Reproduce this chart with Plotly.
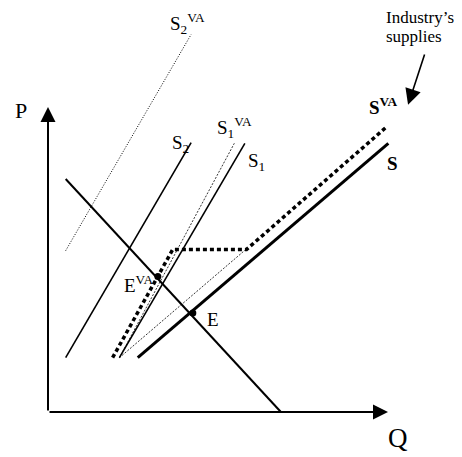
import plotly.graph_objects as go

# ---- data (Q, P) in chart units ----
demand_q = [0.52, 6.85]
demand_p = [7.64, 0.0]

s2_q = [0.52, 4.21]
s2_p = [1.78, 8.83]

s2va_q = [0.52, 4.21]
s2va_p = [5.29, 12.38]

s1_q = [2.10, 5.79]
s1_p = [1.78, 8.81]

s1va_q = [2.10, 5.48]
s1va_p = [1.78, 8.81]

kink_guide_q = [2.10, 5.84]
kink_guide_p = [1.78, 5.35]

s_q = [2.64, 10.01]
s_p = [1.78, 8.81]

sva_q = [1.90, 3.67, 5.84, 9.96]
sva_p = [1.78, 5.33, 5.33, 9.35]

eq_names = ["EVA", "E"]
eq_q = [3.23, 4.26]
eq_p = [4.44, 3.25]

axis_max_q = 10.0
axis_max_p = 10.0

fig = go.Figure()

def line(q, p, width, dash="solid"):
    fig.add_trace(go.Scatter(x=q, y=p, mode="lines",
                             line=dict(color="black", width=width, dash=dash),
                             hoverinfo="skip", showlegend=False))

line(s2va_q, s2va_p, 1, "1px,1.6px")
line(kink_guide_q, kink_guide_p, 0.8, "2px,1.5px")
line(s1va_q, s1va_p, 0.8, "2px,1.5px")
line(demand_q, demand_p, 2)
line(s2_q, s2_p, 1.6)
line(s1_q, s1_p, 1.6)
line(s_q, s_p, 3)
line(sva_q, sva_p, 3.5, "4px,3px")

fig.add_trace(go.Scatter(x=eq_q, y=eq_p, mode="markers",
                         marker=dict(color="black", size=7),
                         hoverinfo="skip", showlegend=False))

# axes with arrowheads
fig.add_annotation(x=0, y=axis_max_p, ax=0, ay=0, xref="x", yref="y",
                   axref="x", ayref="y", showarrow=True, arrowhead=2,
                   arrowsize=1.5, arrowwidth=2, arrowcolor="black", text="")
fig.add_annotation(x=axis_max_q, y=0, ax=0, ay=0, xref="x", yref="y",
                   axref="x", ayref="y", showarrow=True, arrowhead=2,
                   arrowsize=1.5, arrowwidth=2, arrowcolor="black", text="")
# industry's supplies arrow
fig.add_annotation(x=10.59, y=10.07, ax=11.09, ay=11.77, xref="x", yref="y",
                   axref="x", ayref="y", showarrow=True, arrowhead=2,
                   arrowsize=2.0, arrowwidth=1.6, arrowcolor="black", text="")

serif = "Liberation Serif"

def label(x, y, text, size=19, xanchor="left"):
    fig.add_annotation(x=x, y=y, xref="x", yref="y", text=text, showarrow=False,
                       xanchor=xanchor, yanchor="middle",
                       font=dict(family=serif, size=size, color="black"))

label(-0.79, 9.90, "P", 22, "center")
label(10.29, -0.85, "Q", 27, "center")
label(3.53, 12.75, "S<sub>2</sub><sup>VA</sup>")
label(3.59, 8.79, "S<sub>2</sub>")
label(4.91, 9.34, "S<sub>1</sub><sup>VA</sup>")
label(5.82, 8.20, "S<sub>1</sub>")
label(9.38, 10.03, "<b>S<sup>VA</sup></b>")
label(9.91, 8.16, "<b>S</b>")
label(2.18, 4.20, "E<sup>VA</sup>")
label(4.62, 3.02, "E")
label(10.94, 12.95, "Industry’s", 17, "center")
label(10.76, 12.30, "supplies", 17, "center")

# page body has an 8px margin: figure origin sits at (8, 8) in the window
W, H = 454, 449
ox, oy = 40, 404   # axis origin in figure pixels
sx, sy = 34, 30.5  # pixels per unit

fig.update_layout(
    width=W, height=H,
    margin=dict(l=0, r=0, t=0, b=0),
    paper_bgcolor="white", plot_bgcolor="white",
    xaxis=dict(range=[-ox/sx, (W-ox)/sx], visible=False, fixedrange=True),
    yaxis=dict(range=[-(H-oy)/sy, oy/sy], visible=False, fixedrange=True),
    showlegend=False,
)

fig.write_html("out.html", config={"displayModeBar": False})
